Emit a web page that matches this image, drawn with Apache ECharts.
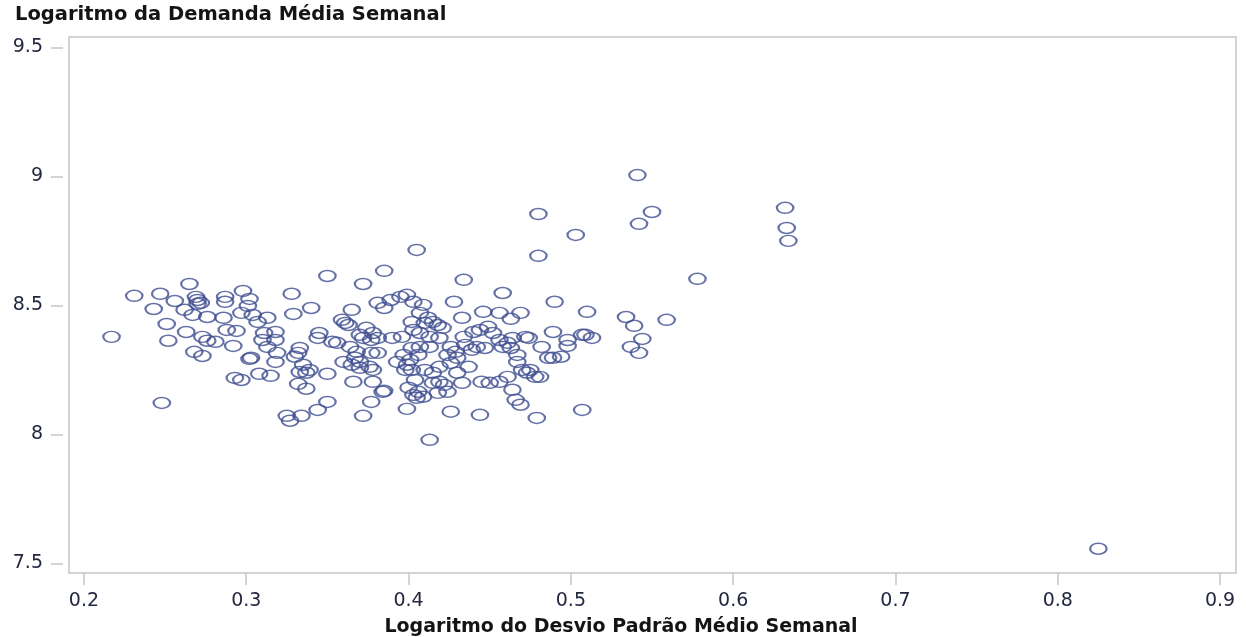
<!DOCTYPE html>
<html>
<head>
<meta charset="utf-8">
<title>Demanda x Desvio Padrão</title>
<script src="https://cdn.jsdelivr.net/npm/echarts@6/dist/echarts.min.js"></script>
<style>
  html, body { margin: 0; padding: 0; background: #ffffff; }
  #chart { width: 1246px; height: 637px; }
</style>
</head>
<body>
<div id="chart"></div>
<script>
// Log of weekly std deviation (x) and log of weekly mean demand (y), one entry per item
const desvioLog = [
  0.217, 0.231, 0.247, 0.243, 0.256, 0.265, 0.269, 0.270, 0.270, 0.272,
  0.262, 0.267, 0.276, 0.287, 0.287, 0.298, 0.302, 0.301, 0.297, 0.286,
  0.304, 0.307, 0.313, 0.251, 0.263, 0.252, 0.273, 0.276, 0.281, 0.288,
  0.294, 0.292, 0.268, 0.273, 0.302, 0.303, 0.308, 0.315, 0.293, 0.297,
  0.248, 0.311, 0.318, 0.310, 0.318, 0.313,
  0.350, 0.385, 0.372, 0.328, 0.340, 0.329, 0.365, 0.359, 0.361, 0.363,
  0.345, 0.344, 0.353, 0.356, 0.333, 0.332, 0.330, 0.319, 0.318, 0.335,
  0.333, 0.339, 0.337, 0.350, 0.332, 0.337, 0.350, 0.344, 0.334, 0.325,
  0.327, 0.366, 0.378, 0.384, 0.385, 0.377, 0.372, 0.364, 0.368, 0.367,
  0.370, 0.360, 0.365, 0.370, 0.374, 0.378, 0.381, 0.377, 0.372, 0.370,
  0.377, 0.381, 0.376, 0.378, 0.390, 0.396, 0.381, 0.385, 0.389, 0.395,
  0.399, 0.403, 0.402, 0.397, 0.401, 0.399, 0.393, 0.402, 0.404, 0.400,
  0.403, 0.405, 0.399,
  0.405, 0.480, 0.434, 0.458, 0.490, 0.428, 0.409, 0.446, 0.456, 0.469,
  0.433, 0.463, 0.407, 0.412, 0.415, 0.418, 0.410, 0.421, 0.403, 0.407,
  0.413, 0.419, 0.434, 0.440, 0.444, 0.449, 0.452, 0.456, 0.461, 0.463,
  0.458, 0.464, 0.472, 0.474, 0.489, 0.482, 0.489, 0.486, 0.447, 0.442,
  0.439, 0.435, 0.426, 0.429, 0.424, 0.430, 0.437, 0.402, 0.407, 0.413,
  0.406, 0.419, 0.426, 0.430, 0.433, 0.445, 0.450, 0.456, 0.461, 0.470,
  0.475, 0.478, 0.473, 0.467, 0.467, 0.464, 0.466, 0.469, 0.479, 0.444,
  0.426, 0.413, 0.406, 0.409, 0.415, 0.419, 0.422, 0.418, 0.424, 0.398,
  0.410, 0.415,
  0.510, 0.534, 0.539, 0.559, 0.498, 0.498, 0.507, 0.509, 0.513, 0.494,
  0.544, 0.537, 0.542, 0.481, 0.507, 0.578, 0.541, 0.480, 0.550, 0.542,
  0.503, 0.632, 0.633, 0.634, 0.825
];
const demandaLog = [
  8.378, 8.537, 8.545, 8.486, 8.517, 8.583, 8.533, 8.521, 8.506, 8.510,
  8.483, 8.463, 8.455, 8.533, 8.514, 8.556, 8.525, 8.498, 8.471, 8.452,
  8.463, 8.436, 8.452, 8.428, 8.397, 8.363, 8.378, 8.363, 8.359, 8.405,
  8.401, 8.343, 8.320, 8.304, 8.293, 8.297, 8.235, 8.227, 8.219, 8.211,
  8.122, 8.393, 8.397, 8.366, 8.366, 8.339,
  8.614, 8.634, 8.583, 8.545, 8.490, 8.467, 8.483, 8.444, 8.432, 8.424,
  8.393, 8.374, 8.359, 8.355, 8.335, 8.316, 8.301, 8.316, 8.281, 8.270,
  8.242, 8.250, 8.239, 8.235, 8.196, 8.177, 8.126, 8.095, 8.072, 8.072,
  8.053, 8.204, 8.204, 8.165, 8.169, 8.126, 8.072, 8.339, 8.320, 8.297,
  8.281, 8.281, 8.270, 8.258, 8.413, 8.393, 8.374, 8.366, 8.374, 8.386,
  8.316, 8.316, 8.262, 8.250, 8.374, 8.378, 8.510, 8.490, 8.521, 8.533,
  8.541, 8.514, 8.436, 8.308, 8.289, 8.270, 8.281, 8.250, 8.211, 8.181,
  8.153, 8.142, 8.099,
  8.715, 8.692, 8.599, 8.548, 8.514, 8.514, 8.502, 8.475, 8.471, 8.471,
  8.452, 8.448, 8.471, 8.452, 8.436, 8.424, 8.432, 8.413, 8.405, 8.393,
  8.378, 8.374, 8.378, 8.397, 8.405, 8.417, 8.393, 8.366, 8.355, 8.335,
  8.339, 8.374, 8.378, 8.374, 8.397, 8.339, 8.297, 8.297, 8.335, 8.339,
  8.328, 8.347, 8.339, 8.320, 8.308, 8.297, 8.262, 8.335, 8.339, 8.339,
  8.308, 8.262, 8.277, 8.239, 8.200, 8.204, 8.200, 8.204, 8.223, 8.250,
  8.250, 8.223, 8.239, 8.281, 8.308, 8.173, 8.134, 8.115, 8.064, 8.076,
  8.088, 7.979, 8.165, 8.146, 8.200, 8.204, 8.192, 8.161, 8.165, 8.250,
  8.250, 8.239,
  8.475, 8.455, 8.421, 8.444, 8.366, 8.343, 8.386, 8.386, 8.374, 8.301,
  8.370, 8.339, 8.316, 8.223, 8.095, 8.603, 9.005, 8.854, 8.862, 8.816,
  8.773, 8.878, 8.800, 8.750, 7.557
];

const xTicks = [0.2, 0.3, 0.4, 0.5, 0.6, 0.7, 0.8, 0.9];
const yTicks = [7.5, 8, 8.5, 9, 9.5];

const yTitle = 'Logaritmo da Demanda Média Semanal';
const xTitle = 'Logaritmo do Desvio Padrão Médio Semanal';

const points = desvioLog.map((x, i) => [x, demandaLog[i]]);

const frameColor = '#c6c6c6';
const labelColor = '#232740';
const markColor = '#3e4d90';

// unit circle, stretched to the symbol box so it draws as a wide ellipse
const ring = 'path://M10,0A10,10,0,1,1,-10,0A10,10,0,1,1,10,0Z';

const chart = echarts.init(document.getElementById('chart'), null, { renderer: 'canvas' });
chart.setOption({
  backgroundColor: '#ffffff',
  animation: false,
  grid: {
    left: 69, right: 10, top: 37, bottom: 64,
    show: true, borderColor: frameColor, borderWidth: 1.5,
    backgroundColor: 'transparent'
  },
  xAxis: {
    type: 'value',
    min: 0.1908, max: 0.9098,
    splitLine: { show: false },
    axisLine: { show: false },
    axisTick: {
      show: true, length: 12, customValues: xTicks,
      lineStyle: { color: frameColor, width: 1.5 }
    },
    axisLabel: {
      customValues: xTicks, margin: 19,
      color: labelColor, fontFamily: 'DejaVu Sans', fontSize: 19,
      formatter: v => String(v)
    }
  },
  yAxis: {
    type: 'value',
    min: 7.463, max: 9.54,
    offset: 6,
    splitLine: { show: false },
    axisLine: { show: false },
    axisTick: {
      show: true, length: 12, customValues: yTicks,
      lineStyle: { color: frameColor, width: 1.5 }
    },
    axisLabel: {
      customValues: yTicks, margin: 20,
      color: labelColor, fontFamily: 'DejaVu Sans', fontSize: 19,
      formatter: v => String(v)
    }
  },
  graphic: [
    {
      type: 'text', left: 15, top: 5,
      style: {
        text: yTitle, fill: '#141414',
        font: 'bold 19.5px "DejaVu Sans"'
      }
    },
    {
      type: 'text', x: 621, y: 627,
      style: {
        text: xTitle, fill: '#141414',
        font: 'bold 19px "DejaVu Sans"',
        align: 'center', verticalAlign: 'middle'
      }
    }
  ],
  series: [{
    type: 'scatter',
    data: points,
    symbol: ring,
    symbolSize: [16.5, 11],
    symbolKeepAspect: false,
    itemStyle: {
      color: 'rgba(0,0,0,0)',
      borderColor: markColor,
      borderWidth: 1.8
    },
    emphasis: { disabled: true }
  }]
});
</script>
</body>
</html>
